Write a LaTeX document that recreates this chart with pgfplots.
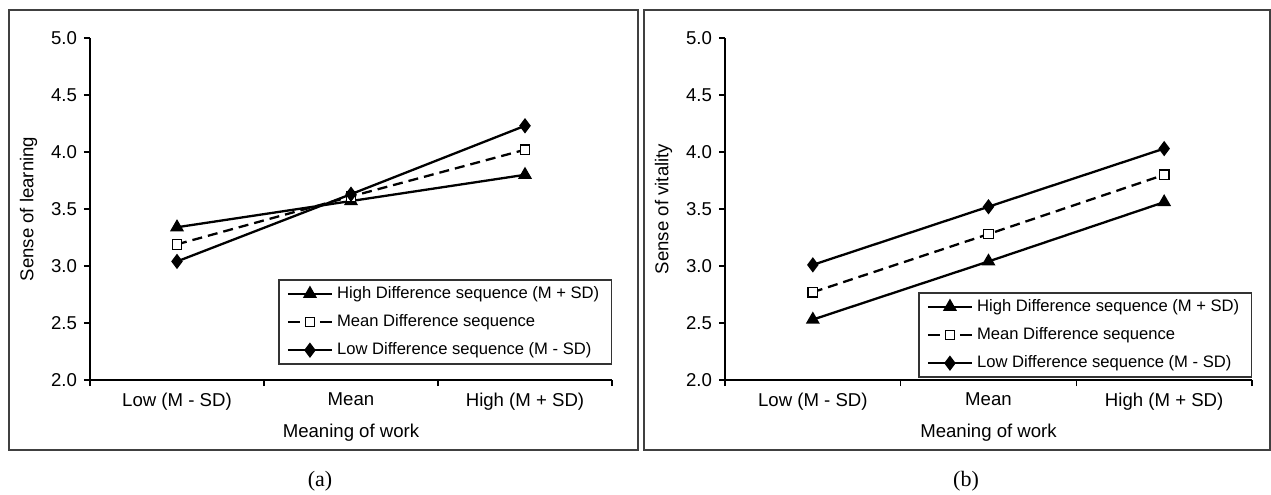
\documentclass[border=0pt]{standalone}
\usepackage{fontspec}
\setmainfont{Liberation Sans}
\newfontfamily\capfont{Liberation Serif}
\usepackage{pgfplots}
\pgfplotsset{compat=1.18}

\newcommand{\tickfont}{\fontsize{9.3}{11}\selectfont}
\newcommand{\legfont}{\fontsize{8.3}{10}\selectfont}

\pgfplotsset{
  slopeaxis/.style={
    scale only axis, height=171pt,
    xmin=-0.5, xmax=2.5, ymin=2, ymax=5,
    axis lines=left, axis line style={-, line width=0.7pt},
    tick align=outside, major tick length=3pt,
    tick style={line width=0.7pt, black},
    xtick={-0.5,0.5,1.5,2.5},
    xticklabels={Low (M - SD), Mean, High (M + SD)},
    x tick label as interval,
    ytick={2,2.5,3,3.5,4,4.5,5},
    yticklabel style={/pgf/number format/.cd, fixed, fixed zerofill, precision=1, assume math mode=true},
    tick label style={font=\tickfont},
    label style={font=\tickfont},
    xlabel={Meaning of work},
    legend cell align=left,
    legend style={draw=black!80, line width=0.7pt, font=\legfont,
      row sep=2.6pt, inner xsep=4pt, inner ysep=1.2pt},
    legend image code/.code={
      \draw[mark repeat=2, mark phase=2, #1]
        plot coordinates {(0pt,0pt) (11pt,0pt) (22pt,0pt)};
    },
  },
  hiline/.style={black, line width=1.15pt, mark=triangle*, mark size=2.9pt, mark options={solid}},
  meanline/.style={black, line width=1.15pt, dash pattern=on 5pt off 3pt, mark=square*, mark size=2.4pt, mark options={solid, fill=white, line width=0.6pt},
    legend image code/.code={
      \draw[mark repeat=2, mark phase=2, #1, dash pattern=on 6pt off 10pt]
        plot coordinates {(0pt,0pt) (11pt,0pt) (22pt,0pt)};
    }},
  loline/.style={black, line width=1.15pt, mark=diamond*, mark size=2.9pt, mark options={solid}},
}

\begin{document}
\begin{tikzpicture}
\useasboundingbox (0,0) rectangle (635.5pt,247pt);
% panel frames
\draw[black!75, line width=1pt] (4.5pt,22pt) rectangle (319pt,242pt);
\draw[black!75, line width=1pt] (322pt,22pt) rectangle (635pt,242pt);

\begin{axis}[slopeaxis, width=261pt,
  at={(45pt,57pt)}, anchor=south west,
  ylabel={Sense of learning},
  legend style={at={(1,0.295)}, anchor=north east}]
\addplot[hiline] coordinates {(0,3.34) (1,3.57) (2,3.80)};
\addplot[meanline] coordinates {(0,3.19) (1,3.61) (2,4.02)};
\addplot[loline] coordinates {(0,3.04) (1,3.63) (2,4.23)};
\legend{High Difference sequence (M + SD), Mean Difference sequence, Low Difference sequence (M - SD)}
\end{axis}

\begin{axis}[slopeaxis, width=263.5pt,
  at={(362.5pt,57pt)}, anchor=south west,
  ylabel={Sense of vitality},
  legend style={at={(1,0.257)}, anchor=north east}]
\addplot[hiline] coordinates {(0,2.53) (1,3.04) (2,3.56)};
\addplot[meanline] coordinates {(0,2.77) (1,3.28) (2,3.80)};
\addplot[loline] coordinates {(0,3.01) (1,3.52) (2,4.03)};
\legend{High Difference sequence (M + SD), Mean Difference sequence, Low Difference sequence (M - SD)}
\end{axis}

\node[font=\capfont\fontsize{11}{12}\selectfont] at (160pt,6.5pt) {(a)};
\node[font=\capfont\fontsize{11}{12}\selectfont] at (483pt,6.5pt) {(b)};
\end{tikzpicture}
\end{document}
